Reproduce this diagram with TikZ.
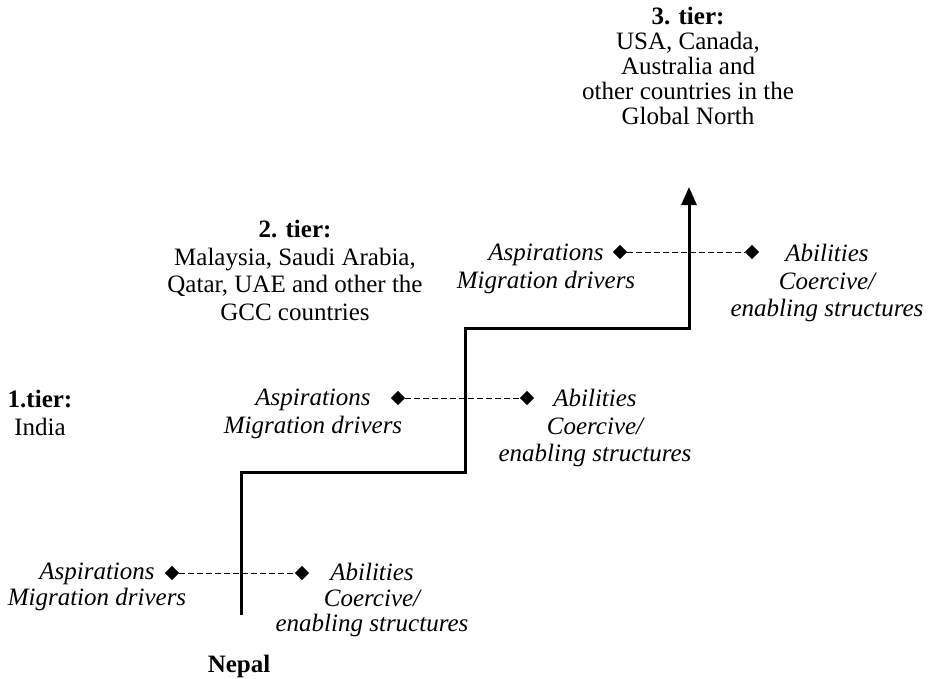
\documentclass[tikz,border=0pt]{standalone}
\usepackage{fontspec}
\setmainfont{Liberation Serif}
\usetikzlibrary{shapes.geometric,arrows.meta}
\begin{document}
\begin{tikzpicture}[x=1pt,y=-1pt,
  txt/.style={font=\fontsize{25}{27.5}\selectfont, align=center, inner sep=0pt, anchor=north},
  tighttxt/.style={txt, font=\fontsize{25}{25}\selectfont},
  itx/.style={txt, font=\fontsize{25}{27.5}\selectfont\itshape},
  itxtight/.style={txt, font=\fontsize{25}{25.5}\selectfont\itshape},
  dia/.style={diamond, fill=black, draw=none, inner sep=0pt, minimum width=14.5pt, minimum height=14.5pt},
  dashline/.style={dash pattern=on 5.5pt off 3.5pt, line width=0.9pt},
  stair/.style={line width=3pt, -{Triangle[length=18pt,width=15pt]}}]
\useasboundingbox (0,0) rectangle (929,678);

% staircase
\coordinate (s0) at (241,615);
\coordinate (s1) at (241,472);
\coordinate (s2) at (465,472);
\coordinate (s3) at (465,328);
\coordinate (s4) at (689,328);
\coordinate (s5) at (689,187);
\draw[stair] (s0) -- (s1) -- (s2) -- (s3) -- (s4) -- (s5);

% tier labels
\node[txt] (nepal) at (239,655) {\textbf{Nepal}};
\node[txt] (tier1) at (40,390) {\textbf{1.tier:}\\India};
\node[txt] (tier2) at (295,220) {\textbf{2. tier:}\\Malaysia, Saudi Arabia,\\Qatar, UAE and other the\\GCC countries};
\node[tighttxt] (tier3) at (688,7) {\textbf{3. tier:}\\USA, Canada,\\Australia and\\other countries in the\\Global North};

% level 1
\node[dia] (d1l) at (172,573) {};
\node[dia] (d1r) at (302,573) {};
\draw[dashline] (d1l) -- (d1r);
\node[itxtight] (asp1) at (97,563) {Aspirations\\Migration drivers};
\node[itxtight] (abi1) at (372,563) {Abilities\\Coercive/\\enabling structures};

% level 2
\node[dia] (d2l) at (398,398) {};
\node[dia] (d2r) at (527,398) {};
\draw[dashline] (d2l) -- (d2r);
\node[itx] (asp2) at (313,389) {Aspirations\\Migration drivers};
\node[itx] (abi2) at (595,389) {Abilities\\Coercive/\\enabling structures};

% level 3
\node[dia] (d3l) at (620,252) {};
\node[dia] (d3r) at (752,252) {};
\draw[dashline] (d3l) -- (d3r);
\node[itx] (asp3) at (546,244) {Aspirations\\Migration drivers};
\node[itx] (abi3) at (827,244) {Abilities\\Coercive/\\enabling structures};
\end{tikzpicture}
\end{document}
